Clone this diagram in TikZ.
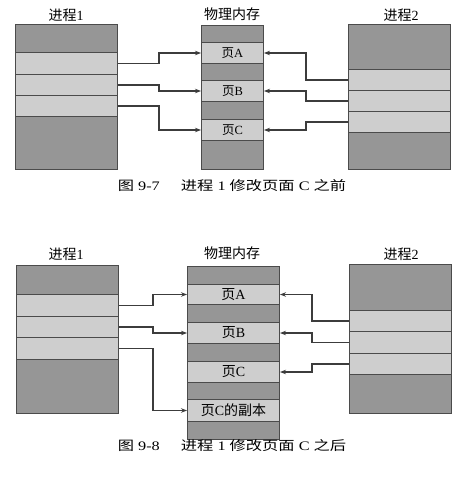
\documentclass[tikz,border=0pt]{standalone}
\usepackage{fontspec}
\setmainfont{Liberation Serif}
\newfontfamily\cjk{Noto Sans CJK SC}
\usetikzlibrary{arrows.meta}
\definecolor{darkband}{RGB}{150,150,150}
\definecolor{lightband}{RGB}{206,206,206}
\definecolor{edgecol}{RGB}{75,75,75}
\definecolor{arrcol}{RGB}{60,60,60}
\tikzset{
  band/.style={draw=edgecol, line width=1pt, inner sep=0pt, anchor=north west, font=\fontsize{12.5}{14}\selectfont},
  dk/.style={band, fill=darkband},
  lt/.style={band, fill=lightband},
  bigtext/.style={font=\fontsize{14}{16}\selectfont},
  title/.style={font=\fontsize{14}{16}\selectfont, inner sep=0pt},
  caption/.style={font=\fontsize{13}{15}\selectfont, inner sep=0pt},
  arr/.style={draw=arrcol, line width=1.2pt, -{Stealth[length=6pt,width=4.5pt]}}
}
\begin{document}
\begin{tikzpicture}[x=1pt,y=-1pt]
\useasboundingbox (0,0) rectangle (465,481);
% ---------- top figure ----------
\node[title] (tl1) at (66,15) {{\cjk 进程}1};
\node[title] (tlm) at (232,14) {\cjk 物理内存};
\node[title] (tl2) at (401,15) {{\cjk 进程}2};
% process 1
\node[dk, minimum width=102pt, minimum height=28pt] (t1a) at (15,24) {};
\node[lt, minimum width=102pt, minimum height=22pt] (t1b) at (15,52) {};
\node[lt, minimum width=102pt, minimum height=21pt] (t1c) at (15,74) {};
\node[lt, minimum width=102pt, minimum height=21pt] (t1d) at (15,95) {};
\node[dk, minimum width=102pt, minimum height=53pt] (t1e) at (15,116) {};
% memory
\node[dk, minimum width=62pt, minimum height=17pt] (tm1) at (201,25) {};
\node[lt, minimum width=62pt, minimum height=21pt] (tmA) at (201,42) {{\cjk 页}A};
\node[dk, minimum width=62pt, minimum height=17pt] (tm2) at (201,63) {};
\node[lt, minimum width=62pt, minimum height=21pt] (tmB) at (201,80) {{\cjk 页}B};
\node[dk, minimum width=62pt, minimum height=18pt] (tm3) at (201,101) {};
\node[lt, minimum width=62pt, minimum height=21pt] (tmC) at (201,119) {{\cjk 页}C};
\node[dk, minimum width=62pt, minimum height=29pt] (tm4) at (201,140) {};
% process 2
\node[dk, minimum width=102pt, minimum height=45pt] (t2a) at (348,24) {};
\node[lt, minimum width=102pt, minimum height=21pt] (t2b) at (348,69) {};
\node[lt, minimum width=102pt, minimum height=21pt] (t2c) at (348,90) {};
\node[lt, minimum width=102pt, minimum height=21pt] (t2d) at (348,111) {};
\node[dk, minimum width=102pt, minimum height=37pt] (t2e) at (348,132) {};
% connectors
\coordinate (tlx) at (159,0);
\coordinate (trx) at (306,0);
\draw[arr] (t1b.east) -- (t1b.east -| tlx) |- (tmA.west);
\draw[arr] (t1c.east) -- (t1c.east -| tlx) |- (tmB.west);
\draw[arr] (t1d.east) -- (t1d.east -| tlx) |- (tmC.west);
\draw[arr] (t2b.west) -- (t2b.west -| trx) |- (tmA.east);
\draw[arr] (t2c.west) -- (t2c.west -| trx) |- (tmB.east);
\draw[arr] (t2d.west) -- (t2d.west -| trx) |- (tmC.east);
\node[caption] (cap1) at (232,186) {\scalebox{1.25}[1]{{\cjk 图} 9-7\hspace{1.3em}{\cjk 进程} 1 {\cjk 修改页面} C {\cjk 之前}}};
% ---------- bottom figure ----------
\node[title] (bl1) at (66,254) {{\cjk 进程}1};
\node[title] (blm) at (232,253) {\cjk 物理内存};
\node[title] (bl2) at (401,254) {{\cjk 进程}2};
% process 1
\node[dk, minimum width=102pt, minimum height=29pt] (b1a) at (16,265) {};
\node[lt, minimum width=102pt, minimum height=22pt] (b1b) at (16,294) {};
\node[lt, minimum width=102pt, minimum height=21pt] (b1c) at (16,316) {};
\node[lt, minimum width=102pt, minimum height=22pt] (b1d) at (16,337) {};
\node[dk, minimum width=102pt, minimum height=54pt] (b1e) at (16,359) {};
% memory
\node[dk, minimum width=92pt, minimum height=18pt] (bm1) at (187,266) {};
\node[lt, bigtext, minimum width=92pt, minimum height=20pt] (bmA) at (187,284) {{\cjk 页}A};
\node[dk, minimum width=92pt, minimum height=18pt] (bm2) at (187,304) {};
\node[lt, bigtext, minimum width=92pt, minimum height=21pt] (bmB) at (187,322) {{\cjk 页}B};
\node[dk, minimum width=92pt, minimum height=18pt] (bm3) at (187,343) {};
\node[lt, bigtext, minimum width=92pt, minimum height=21pt] (bmC) at (187,361) {{\cjk 页}C};
\node[dk, minimum width=92pt, minimum height=17pt] (bm4) at (187,382) {};
\node[lt, bigtext, minimum width=92pt, minimum height=22pt] (bmD) at (187,399) {{\cjk 页}C{\cjk 的副本}};
\node[dk, minimum width=92pt, minimum height=18pt] (bm5) at (187,421) {};
% process 2
\node[dk, minimum width=102pt, minimum height=46pt] (b2a) at (349,264) {};
\node[lt, minimum width=102pt, minimum height=21pt] (b2b) at (349,310) {};
\node[lt, minimum width=102pt, minimum height=22pt] (b2c) at (349,331) {};
\node[lt, minimum width=102pt, minimum height=21pt] (b2d) at (349,353) {};
\node[dk, minimum width=102pt, minimum height=39pt] (b2e) at (349,374) {};
% connectors
\coordinate (blx) at (153,0);
\coordinate (brx) at (312,0);
\draw[arr] (b1b.east) -- (b1b.east -| blx) |- (bmA.west);
\draw[arr] (b1c.east) -- (b1c.east -| blx) |- (bmB.west);
\draw[arr] (b1d.east) -- (b1d.east -| blx) |- (bmD.west);
\draw[arr] (b2b.west) -- (b2b.west -| brx) |- (bmA.east);
\draw[arr] (b2c.west) -- (b2c.west -| brx) |- (bmB.east);
\draw[arr] (b2d.west) -- (b2d.west -| brx) |- (bmC.east);
\node[caption] (cap2) at (232,446) {\scalebox{1.25}[1]{{\cjk 图} 9-8\hspace{1.3em}{\cjk 进程} 1 {\cjk 修改页面} C {\cjk 之后}}};
\end{tikzpicture}
\end{document}
